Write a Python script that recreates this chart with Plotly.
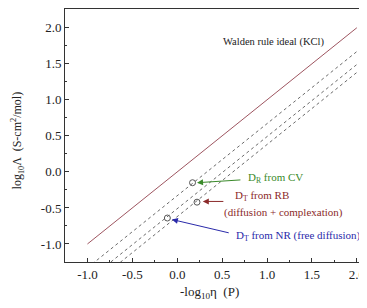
import plotly.graph_objects as go

# Data
walden_x = [-1.0, 2.0]
walden_y = [-1.0, 2.0]
line_x = [-1.0, 2.0]
cv_line_y = [-1.33, 1.67]
nr_line_y = [-1.51, 1.49]
rb_line_y = [-1.62, 1.38]
pts_x = [0.17, 0.22, -0.11]
pts_y = [-0.15, -0.42, -0.64]
x_ticks = [-1.0, -0.5, 0.0, 0.5, 1.0, 1.5, 2.0]
y_ticks = [-1.0, -0.5, 0.0, 0.5, 1.0, 1.5, 2.0]

FONT = "Liberation Serif, Times New Roman, serif"

fig = go.Figure()
fig.add_trace(go.Scatter(x=walden_x, y=walden_y, mode="lines",
                         line=dict(color="#9e5560", width=1), showlegend=False))
for ys in (cv_line_y, nr_line_y, rb_line_y):
    fig.add_trace(go.Scatter(x=line_x, y=ys, mode="lines",
                             line=dict(color="#5a5a5a", width=0.9, dash="3px,3px"),
                             showlegend=False))
fig.add_trace(go.Scatter(x=pts_x, y=pts_y, mode="markers",
                         marker=dict(symbol="circle-open", size=6, color="#555555",
                                     line=dict(width=1)),
                         showlegend=False))

anns = [
    dict(x=0.49, y=1.80, text="Walden rule ideal (KCl)", color="#222222", size=10.5),
    dict(x=0.77, y=-0.08, text="D<sub>R</sub> from CV", color="#3a8a2a", size=11),
    dict(x=0.62, y=-0.34, text="D<sub>T</sub> from RB", color="#8b2a2a", size=11),
    dict(x=0.50, y=-0.56, text="(diffusion + complexation)", color="#8b2a2a", size=11),
    dict(x=0.63, y=-0.89, text="D<sub>T</sub> from NR (free diffusion)", color="#2a2aaa", size=11),
]
for a in anns:
    fig.add_annotation(x=a["x"], y=a["y"], xref="x", yref="y", text=a["text"],
                       showarrow=False, xanchor="left", yanchor="middle",
                       font=dict(family=FONT, size=a["size"], color=a["color"]))

arrows = [
    (0.22, -0.15, 0.72, -0.11, "#3a8a2a"),
    (0.285, -0.41, 0.53, -0.41, "#8b2a2a"),
    (-0.06, -0.66, 0.59, -0.85, "#2a2aaa"),
]
for hx, hy, tx, ty, c in arrows:
    fig.add_annotation(x=hx, y=hy, ax=tx, ay=ty, xref="x", yref="y", axref="x", ayref="y",
                       text="", showarrow=True, arrowhead=2, arrowsize=1.2,
                       arrowwidth=1, arrowcolor=c)

# Axis titles as paper-positioned annotations
fig.add_annotation(x=0.48, y=-0.122, xref="paper", yref="paper", xanchor="center",
                   yanchor="middle", showarrow=False,
                   text="-log<sub>10</sub>η  (P)",
                   font=dict(family=FONT, size=13, color="#222222"))
fig.add_annotation(x=-0.156, y=0.48, xref="paper", yref="paper", xanchor="center",
                   yanchor="middle", showarrow=False, textangle=-90,
                   text="log<sub>10</sub>Λ  (S-cm<sup>2</sup>/mol)",
                   font=dict(family=FONT, size=12, color="#222222"))

axis_common = dict(showline=True, linecolor="#333333", linewidth=1, mirror=True,
                   ticks="inside", ticklen=4, tickcolor="#333333", showgrid=False,
                   zeroline=False, automargin=False,
                   tickfont=dict(family=FONT, size=13, color="#222222"),
                   minor=dict(ticks="inside", ticklen=2, tickcolor="#333333", dtick=0.25))

fig.update_xaxes(range=[-1.25, 2.113], tickvals=x_ticks,
                 ticktext=[f"{v:.1f}" for v in x_ticks], **axis_common)
fig.update_yaxes(range=[-1.25, 2.26], tickvals=y_ticks,
                 ticktext=[f"{v:.1f}" for v in y_ticks], **axis_common)

# page body has an 8px default margin, so the figure is 8px smaller
fig.update_layout(width=359, height=300, margin=dict(l=57, r=0, t=1, b=46),
                  plot_bgcolor="white", paper_bgcolor="white")

fig.write_html("out.html")
